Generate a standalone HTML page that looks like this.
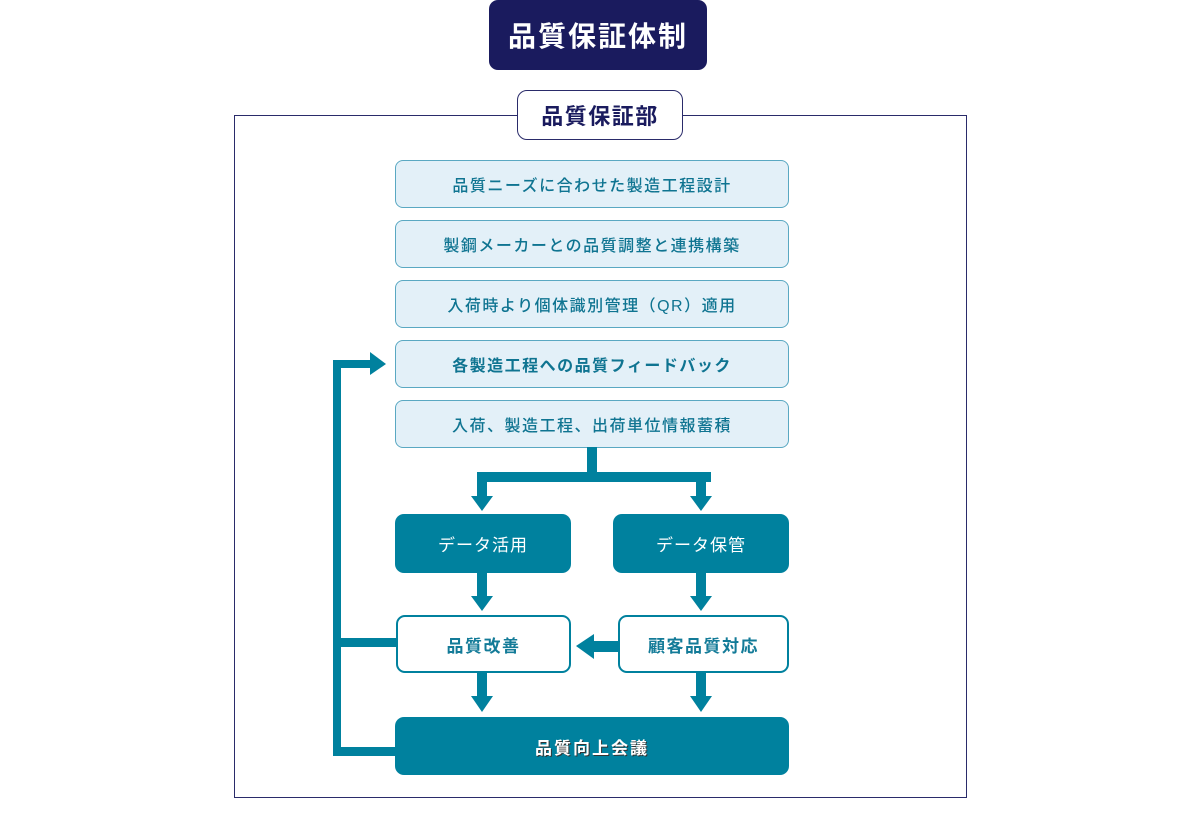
<!DOCTYPE html>
<html><head><meta charset="utf-8"><style>
body{margin:0;width:1200px;height:825px;background:#fff;position:relative;overflow:hidden;font-family:"Liberation Sans","Noto Sans CJK JP",sans-serif}
.a{position:absolute;box-sizing:border-box;display:flex;align-items:center;justify-content:center}
.l{background:#e3f0f8;border:1px solid #5aa8c2;border-radius:8px;color:#0f7491;font-size:16px;letter-spacing:1.5px;left:395px;width:394px;height:48px;font-weight:500}
.t{background:#00819e;color:#fff;border-radius:9px;font-size:17px;letter-spacing:1px}
.w{background:#fff;border:2px solid #00819e;border-radius:9px;color:#137b98;font-size:17px;font-weight:bold;letter-spacing:1.5px}
</style></head><body>
<div class="a" style="left:489px;top:0;width:218px;height:70px;background:#1a1b5e;border-radius:9px;color:#fff;font-size:28px;font-weight:bold;letter-spacing:2px">品質保証体制</div>
<div class="a" style="left:234px;top:115px;width:733px;height:683px;border:1px solid #2a2b6a"></div>
<div class="a" style="left:517px;top:90px;width:166px;height:50px;background:#fff;border:1.5px solid #2a2b6a;border-radius:10px;color:#1a1b5e;font-size:22px;font-weight:bold;letter-spacing:1.5px">品質保証部</div>
<div class="a l" style="top:160px">品質ニーズに合わせた製造工程設計</div>
<div class="a l" style="top:220px">製鋼メーカーとの品質調整と連携構築</div>
<div class="a l" style="top:280px">入荷時より個体識別管理（QR）適用</div>
<div class="a l" style="top:340px;font-weight:bold">各製造工程への品質フィードバック</div>
<div class="a l" style="top:400px">入荷、製造工程、出荷単位情報蓄積</div>
<svg class="a" style="left:0;top:0" width="1200" height="825">
<g fill="#00819e">
<rect x="587" y="447" width="10" height="30"/>
<rect x="477" y="472" width="234" height="10"/>
<rect x="477" y="472" width="10" height="25"/><polygon points="471,496 493,496 482,511"/>
<rect x="696" y="472" width="10" height="25"/><polygon points="690,496 712,496 701,511"/>
<rect x="477" y="572" width="10" height="25"/><polygon points="471,596 493,596 482,611"/>
<rect x="696" y="572" width="10" height="25"/><polygon points="690,596 712,596 701,611"/>
<rect x="477" y="672" width="10" height="25"/><polygon points="471,696 493,696 482,712"/>
<rect x="696" y="672" width="10" height="25"/><polygon points="690,696 712,696 701,712"/>
<rect x="592" y="641" width="27" height="11"/><polygon points="594,634 594,659 576,646"/>
<rect x="333" y="360" width="8" height="396"/>
<rect x="333" y="360" width="40" height="8"/><polygon points="370,352 370,375 386,364"/>
<rect x="333" y="638" width="64" height="9"/>
<rect x="333" y="747" width="64" height="9"/>
</g></svg>
<div class="a t" style="left:395px;top:514px;width:176px;height:59px">データ活用</div>
<div class="a t" style="left:613px;top:514px;width:176px;height:59px">データ保管</div>
<div class="a w" style="left:396px;top:615px;width:175px;height:58px">品質改善</div>
<div class="a w" style="left:618px;top:615px;width:171px;height:58px">顧客品質対応</div>
<div class="a t" style="left:395px;top:717px;width:394px;height:58px;font-weight:bold;font-size:17px;letter-spacing:2px;text-shadow:1px 1px 0 #333">品質向上会議</div>
</body></html>
